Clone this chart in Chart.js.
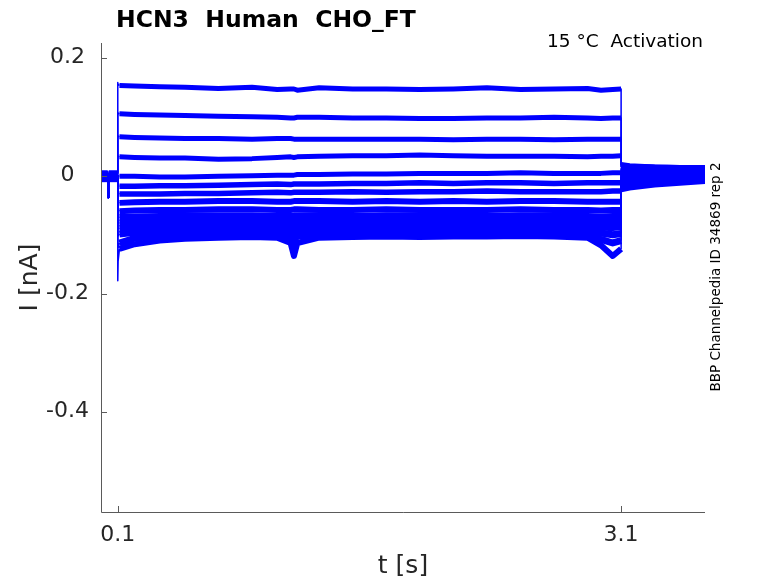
<!DOCTYPE html>
<html>
<head>
<meta charset="utf-8">
<script src="https://cdn.jsdelivr.net/npm/chart.js@4.4.1/dist/chart.umd.min.js"></script>
<style>
  html, body { margin: 0; padding: 0; background: #fff; }
  #wrap { width: 778px; height: 583px; }
</style>
</head>
<body>
<div id="wrap"><canvas id="chart" width="778" height="583"></canvas></div>
<script>
// time bases (s)
const PRE_T = [0, 0.040, 0.042, 0.044, 0.046, 0.1];
const STEP_T = [0.1, 0.102, 0.11, 0.2, 0.35, 0.5, 0.7, 0.9, 1.05, 1.13, 1.15, 1.17,
                1.3, 1.5, 1.7, 1.9, 2.1, 2.3, 2.5, 2.7, 2.9, 2.98, 3.05, 3.1];
const TAIL_T = [3.1, 3.15, 3.3, 3.45, 3.6];

// holding current before the step, one per sweep (nA), and the short test dip
const preLevel = [0.005, 0.004, 0.003, 0.002, 0.001, 0.0, -0.001, -0.002, -0.003, -0.004, -0.005, -0.002, 0.001, 0.002, -0.001];
const preDip = -0.037;

// current during the step, one row per sweep (nA)
const stepCurrents = [
    [0.158, 0.155, 0.153, 0.152, 0.151, 0.150, 0.148, 0.150, 0.146, 0.147, 0.147, 0.145, 0.149, 0.147, 0.147, 0.146, 0.147, 0.149, 0.146, 0.147, 0.148, 0.145, 0.146, 0.147],
    [0.107, 0.106, 0.105, 0.104, 0.103, 0.102, 0.101, 0.100, 0.099, 0.098, 0.098, 0.099, 0.099, 0.098, 0.098, 0.097, 0.097, 0.098, 0.098, 0.099, 0.098, 0.097, 0.098, 0.098],
    [0.068, 0.067, 0.066, 0.065, 0.064, 0.063, 0.063, 0.062, 0.063, 0.063, 0.062, 0.062, 0.062, 0.062, 0.062, 0.062, 0.061, 0.062, 0.062, 0.061, 0.062, 0.062, 0.062, 0.062],
    [0.034, 0.033, 0.032, 0.031, 0.030, 0.030, 0.028, 0.029, 0.031, 0.032, 0.031, 0.032, 0.033, 0.034, 0.034, 0.035, 0.034, 0.033, 0.033, 0.033, 0.032, 0.033, 0.033, 0.034],
    [0.001, 0.000, -0.001, -0.001, -0.002, -0.002, -0.001, 0.000, 0.001, 0.001, 0.001, 0.002, 0.002, 0.003, 0.003, 0.004, 0.004, 0.004, 0.005, 0.004, 0.004, 0.004, 0.005, 0.005],
    [-0.016, -0.017, -0.018, -0.018, -0.017, -0.017, -0.016, -0.015, -0.014, -0.015, -0.014, -0.014, -0.014, -0.013, -0.013, -0.012, -0.013, -0.012, -0.012, -0.013, -0.012, -0.012, -0.012, -0.012],
    [-0.028, -0.030, -0.031, -0.031, -0.031, -0.030, -0.030, -0.029, -0.028, -0.029, -0.028, -0.028, -0.028, -0.027, -0.028, -0.027, -0.027, -0.026, -0.027, -0.027, -0.027, -0.027, -0.026, -0.026],
    [-0.040, -0.045, -0.046, -0.045, -0.044, -0.044, -0.043, -0.043, -0.044, -0.044, -0.043, -0.043, -0.043, -0.044, -0.043, -0.044, -0.043, -0.044, -0.043, -0.043, -0.044, -0.044, -0.044, -0.044],
    [-0.052, -0.058, -0.060, -0.059, -0.058, -0.058, -0.057, -0.057, -0.058, -0.058, -0.057, -0.057, -0.058, -0.058, -0.057, -0.058, -0.058, -0.058, -0.057, -0.058, -0.058, -0.059, -0.058, -0.058],
    [-0.060, -0.070, -0.071, -0.070, -0.069, -0.068, -0.068, -0.068, -0.069, -0.069, -0.068, -0.068, -0.068, -0.069, -0.068, -0.068, -0.068, -0.069, -0.068, -0.068, -0.069, -0.070, -0.069, -0.068],
    [-0.068, -0.080, -0.080, -0.079, -0.078, -0.077, -0.077, -0.077, -0.077, -0.078, -0.078, -0.077, -0.077, -0.077, -0.076, -0.077, -0.077, -0.077, -0.076, -0.077, -0.077, -0.078, -0.078, -0.077],
    [-0.075, -0.090, -0.089, -0.088, -0.086, -0.085, -0.085, -0.085, -0.085, -0.086, -0.087, -0.085, -0.085, -0.084, -0.084, -0.085, -0.085, -0.084, -0.084, -0.085, -0.085, -0.087, -0.088, -0.086],
    [-0.085, -0.102, -0.099, -0.096, -0.094, -0.093, -0.093, -0.092, -0.093, -0.095, -0.097, -0.094, -0.093, -0.092, -0.092, -0.093, -0.092, -0.092, -0.091, -0.092, -0.093, -0.097, -0.100, -0.098],
    [-0.095, -0.122, -0.114, -0.106, -0.101, -0.100, -0.100, -0.099, -0.100, -0.104, -0.110, -0.102, -0.100, -0.099, -0.099, -0.100, -0.099, -0.099, -0.098, -0.099, -0.100, -0.108, -0.114, -0.110],
    [-0.178, -0.145, -0.124, -0.116, -0.110, -0.107, -0.105, -0.104, -0.105, -0.114, -0.136, -0.114, -0.105, -0.104, -0.103, -0.104, -0.103, -0.103, -0.102, -0.103, -0.105, -0.118, -0.136, -0.124]
];

// tail current after the step (nA)
const tailCurrents = [
    [0.019, 0.017, 0.015, 0.014, 0.014],
    [0.018, 0.016, 0.015, 0.014, 0.013],
    [0.016, 0.015, 0.014, 0.013, 0.012],
    [0.015, 0.014, 0.013, 0.012, 0.011],
    [0.013, 0.012, 0.011, 0.010, 0.010],
    [0.011, 0.010, 0.009, 0.009, 0.008],
    [0.008, 0.008, 0.007, 0.007, 0.007],
    [0.005, 0.005, 0.005, 0.005, 0.005],
    [0.002, 0.002, 0.003, 0.003, 0.003],
    [-0.002, -0.001, 0.000, 0.001, 0.001],
    [-0.006, -0.005, -0.003, -0.002, -0.001],
    [-0.010, -0.009, -0.006, -0.004, -0.003],
    [-0.014, -0.012, -0.009, -0.007, -0.005],
    [-0.018, -0.016, -0.012, -0.009, -0.007],
    [-0.023, -0.020, -0.015, -0.012, -0.009]
];

const xTicks = [0.1, 3.1];
const yTicks = [0.2, 0, -0.2, -0.4];

// plateau stroke width per sweep: the noise band is wider on the lower sweeps
const sweepWidth = [5, 5, 5, 5, 5, 5.5, 5.5, 6, 6, 7, 7, 7, 7, 7, 6];

const AXIS_COLOR = '#5a5a5a';
const TEXT_COLOR = '#262626';
const FONT = '"DejaVu Sans", sans-serif';

// build one sweep as a list of points
function buildSweep(i) {
    const pts = [];
    const pre = [preLevel[i], preLevel[i], preDip, preDip, preLevel[i], preLevel[i]];
    PRE_T.forEach((t, k) => pts.push({ x: t, y: pre[k] }));
    STEP_T.forEach((t, k) => pts.push({ x: t, y: stepCurrents[i][k] }));
    TAIL_T.forEach((t, k) => pts.push({ x: t, y: tailCurrents[i][k] }));
    return pts;
}

const datasets = stepCurrents.map((_, i) => ({
    data: buildSweep(i),
    borderColor: '#0000ff',
    borderWidth: sweepWidth[i],
    borderJoinStyle: 'round',
    pointRadius: 0,
    showLine: true,
    tension: 0,
    segment: {
        // step edges and the short test dip are thin, the noisy plateaus look thick
        borderWidth: ctx => (Math.abs(ctx.p1.x - ctx.p0.x) < 2 ? 1.5 : sweepWidth[i])
    }
}));

const decor = {
    id: 'decor',
    afterDraw(chart) {
        const ctx = chart.ctx;
        const area = chart.chartArea;
        const xs = chart.scales.x;
        const ys = chart.scales.y;
        ctx.save();

        // axis lines (box off) and inward ticks
        ctx.strokeStyle = AXIS_COLOR;
        ctx.lineWidth = 1;
        ctx.beginPath();
        ctx.moveTo(Math.round(area.left) + 0.5, area.top);
        ctx.lineTo(Math.round(area.left) + 0.5, area.bottom + 0.5);
        ctx.lineTo(area.right, area.bottom + 0.5);
        yTicks.forEach(v => {
            const py = Math.round(ys.getPixelForValue(v)) + 0.5;
            ctx.moveTo(area.left, py);
            ctx.lineTo(area.left + 6, py);
        });
        xTicks.forEach(v => {
            const px = Math.round(xs.getPixelForValue(v)) + 0.5;
            ctx.moveTo(px, area.bottom);
            ctx.lineTo(px, area.bottom - 6);
        });
        ctx.stroke();

        // title
        ctx.fillStyle = '#000';
        ctx.font = 'bold 23.5px ' + FONT;
        ctx.textAlign = 'left';
        ctx.textBaseline = 'alphabetic';
        ctx.fillText('HCN3  Human  CHO_FT', 116, 27);

        // condition note
        ctx.font = '18.5px ' + FONT;
        ctx.textAlign = 'right';
        ctx.fillText('15 °C  Activation', 703, 47);

        // axis labels
        ctx.fillStyle = TEXT_COLOR;
        ctx.font = '25px ' + FONT;
        ctx.textAlign = 'center';
        ctx.textBaseline = 'middle';
        ctx.fillText('t [s]', (area.left + area.right) / 2, 566);
        ctx.save();
        ctx.translate(30, (area.top + area.bottom) / 2);
        ctx.rotate(-Math.PI / 2);
        ctx.fillText('I [nA]', 0, 0);
        ctx.restore();

        // side id
        ctx.fillStyle = '#000';
        ctx.font = '13.5px ' + FONT;
        ctx.save();
        ctx.translate(716, 277);
        ctx.rotate(-Math.PI / 2);
        ctx.fillText('BBP Channelpedia ID 34869 rep 2', 0, 0);
        ctx.restore();

        ctx.restore();
    }
};

new Chart(document.getElementById('chart'), {
    type: 'scatter',
    data: { datasets: datasets },
    options: {
        responsive: false,
        devicePixelRatio: 1,
        animation: false,
        layout: { padding: { left: 0, top: 43, right: 73, bottom: 0 } },
        plugins: {
            legend: { display: false },
            title: { display: false },
            tooltip: { enabled: false }
        },
        scales: {
            x: {
                type: 'linear',
                min: 0,
                max: 3.6,
                grid: { display: false, drawTicks: false },
                border: { display: false },
                afterBuildTicks: scale => { scale.ticks = xTicks.map(v => ({ value: v })); },
                afterFit: scale => { scale.height = 71; },
                ticks: {
                    padding: 10,
                    color: TEXT_COLOR,
                    font: { family: FONT, size: 22 },
                    maxRotation: 0,
                    callback: v => String(v)
                }
            },
            y: {
                type: 'linear',
                min: -0.57,
                max: 0.225,
                grid: { display: false, drawTicks: false },
                border: { display: false },
                afterBuildTicks: scale => { scale.ticks = yTicks.map(v => ({ value: v })); },
                afterFit: scale => { scale.width = 101; },
                ticks: {
                    padding: 12,
                    crossAlign: 'center',
                    color: TEXT_COLOR,
                    font: { family: FONT, size: 22 },
                    callback: v => (v === 0 ? '0' : v.toFixed(1))
                }
            }
        }
    },
    plugins: [decor]
});
</script>
</body>
</html>
